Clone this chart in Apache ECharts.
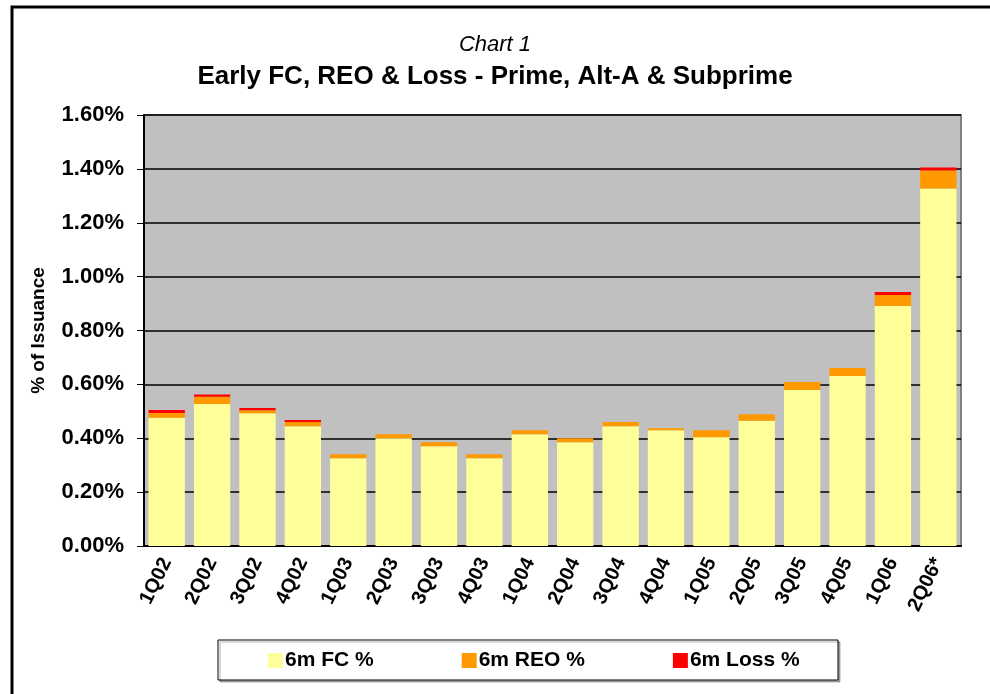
<!DOCTYPE html>
<html>
<head>
<meta charset="utf-8">
<script src="https://cdn.jsdelivr.net/npm/echarts@6/dist/echarts.min.js"></script>
<style>
  html, body { margin: 0; padding: 0; background: #fff; }
  #chart { width: 990px; height: 694px; }
</style>
</head>
<body>
<div id="chart"></div>
<script>
// quarters of issuance
var quarters = ['1Q02', '2Q02', '3Q02', '4Q02', '1Q03', '2Q03', '3Q03', '4Q03', '1Q04',
  '2Q04', '3Q04', '4Q04', '1Q05', '2Q05', '3Q05', '4Q05', '1Q06', '2Q06*'];

// % of issuance
var fcPct = [0.476, 0.527, 0.493, 0.445, 0.326, 0.400, 0.370, 0.326, 0.415,
  0.385, 0.445, 0.430, 0.404, 0.465, 0.579, 0.631, 0.891, 1.327];
var reoPct = [0.018, 0.027, 0.011, 0.015, 0.015, 0.015, 0.015, 0.015, 0.015,
  0.015, 0.015, 0.007, 0.026, 0.024, 0.030, 0.030, 0.041, 0.067];
var lossPct = [0.011, 0.008, 0.008, 0.008, 0, 0, 0, 0, 0,
  0, 0, 0, 0, 0, 0, 0, 0.011, 0.011];

var seriesNames = ['6m FC %', '6m REO %', '6m Loss %'];
var seriesColors = ['#FFFF99', '#FF9900', '#FF0000'];

var font = '"Liberation Sans", Arial, sans-serif';

var myChart = echarts.init(document.getElementById('chart'));

var option = {
  animation: false,
  backgroundColor: '#fff',
  title: [
    {
      text: 'Chart 1',
      left: 'center',
      top: 29,
      textStyle: { fontFamily: font, fontSize: 22, fontWeight: 'normal', fontStyle: 'italic', color: '#000' }
    },
    {
      text: 'Early FC, REO & Loss - Prime, Alt-A & Subprime',
      left: 'center',
      top: 59,
      textStyle: { fontFamily: font, fontSize: 26, fontWeight: 'bold', color: '#000' }
    }
  ],
  graphic: [
    // outer frame
    {
      type: 'rect',
      shape: { x: 12, y: 7, width: 1000, height: 720 },
      style: { fill: 'none', stroke: '#000', lineWidth: 3 }
    },
    // legend box
    {
      type: 'rect',
      shape: { x: 218, y: 640, width: 620, height: 40 },
      style: { fill: '#fff', stroke: '#000', lineWidth: 1, shadowColor: 'rgba(0,0,0,0.3)', shadowOffsetX: 2, shadowOffsetY: 2 },
      z: 0
    }
  ],
  legend: {
    left: 263,
    top: 645,
    itemWidth: 15,
    itemHeight: 15,
    itemGap: 88,
    icon: 'rect',
    z: 10,
    textStyle: { fontFamily: font, fontSize: 21, fontWeight: 'bold', color: '#000', padding: [0, 0, 0, -3] },
    data: seriesNames
  },
  grid: {
    left: 144,
    right: 29,
    top: 115,
    bottom: 148,
    show: true,
    backgroundColor: '#C0C0C0',
    borderColor: '#808080',
    borderWidth: 2
  },
  xAxis: {
    type: 'category',
    data: quarters,
    axisLine: { lineStyle: { color: '#000', width: 2 } },
    axisTick: { length: 7, lineStyle: { color: '#000' } },
    axisLabel: {
      rotate: 64,
      margin: 13,
      interval: 0,
      fontFamily: font,
      fontSize: 20,
      fontWeight: 'bold',
      color: '#000'
    }
  },
  yAxis: {
    type: 'value',
    name: '% of Issuance',
    nameLocation: 'middle',
    nameGap: 96,
    nameTextStyle: { fontFamily: font, fontSize: 19, fontWeight: 'bold', color: '#000' },
    min: 0,
    max: 1.6,
    interval: 0.2,
    axisLine: { show: true, lineStyle: { color: '#000', width: 2 } },
    axisTick: { show: true, length: 7, lineStyle: { color: '#000' } },
    splitLine: { lineStyle: { color: '#000', width: 1.5 } },
    axisLabel: {
      margin: 20,
      fontFamily: font,
      fontSize: 22,
      fontWeight: 'bold',
      color: '#000',
      formatter: function (v) { return v.toFixed(2) + '%'; }
    }
  },
  series: [
    { name: seriesNames[0], type: 'bar', stack: 'all', data: fcPct, barCategoryGap: '20%', itemStyle: { color: seriesColors[0] } },
    { name: seriesNames[1], type: 'bar', stack: 'all', data: reoPct, itemStyle: { color: seriesColors[1] } },
    { name: seriesNames[2], type: 'bar', stack: 'all', data: lossPct, itemStyle: { color: seriesColors[2] } }
  ]
};

myChart.setOption(option);
</script>
</body>
</html>
